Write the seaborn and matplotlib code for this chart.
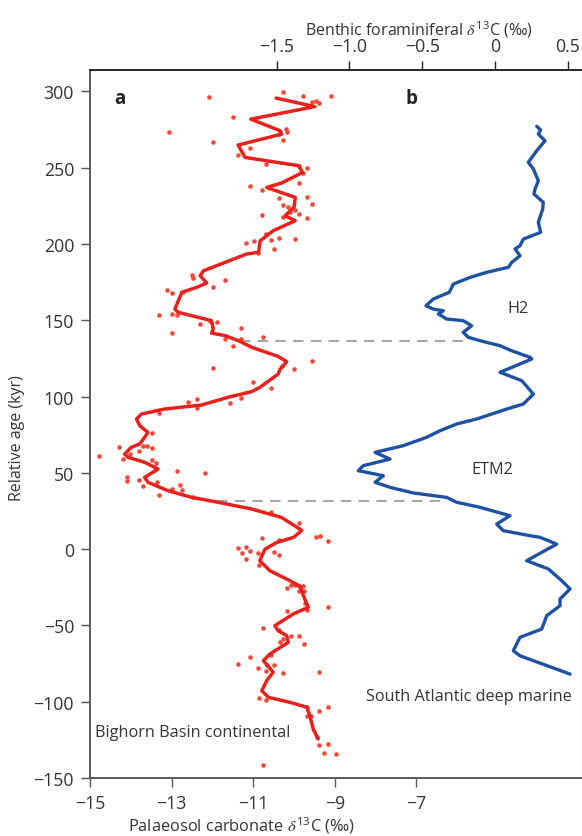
import matplotlib
matplotlib.use("Agg")
import matplotlib.pyplot as plt
import seaborn as sns
import pandas as pd

# Bighorn Basin palaeosol carbonate record: smoothed curve (age kyr, d13C permil)
soil_curve_age = [295.6, 290, 281.8, 274.2, 272, 264.8, 256.7, 251.3, 246.9, 240, 237, 230.5,
                  224, 218.5, 215.2, 208.7, 202, 194.5, 193.4, 182.4, 179.2, 174.4, 171.5, 168.3,
                  157.3, 155.2, 149.7, 144.2, 141.6, 139.9, 136.6, 132.2, 126.3, 122.8, 118, 114.7,
                  106, 103.2, 99.5, 94.4, 91.8, 88.5, 85.3, 80.9, 76.5, 73.3, 68.9, 66.7, 62.3,
                  60.2, 56.9, 52.5, 47, 43.8, 38.3, 34, 30.7, 26.3, 20.8, 12.3, 7.7, 4.4, 0,
                  -7.6, -14.2, -20.7, -24.4, -30.5, -38.1, -42.5, -50.2, -53.5, -56.7, -61.1,
                  -68.7, -73.1, -80.7, -86.2, -92.8, -97.1, -100.4, -103.6, -109.2, -117.9, -124.4]
soil_curve_d13c = [-10.44, -9.49, -11.06, -10.34, -10.30, -11.37, -11.20, -9.89, -9.79, -10.30,
                   -10.67, -9.97, -10.00, -10.22, -9.97, -10.51, -10.83, -10.87, -11.16, -12.22,
                   -12.30, -12.14, -12.39, -12.75, -12.92, -12.84, -12.02, -11.98, -12.02, -11.69,
                   -11.36, -11.03, -10.39, -10.18, -10.34, -10.39, -10.84, -11.04, -11.62, -12.27,
                   -13.18, -13.74, -13.86, -13.78, -13.58, -13.66, -13.78, -13.99, -14.15, -14.07,
                   -13.66, -13.33, -13.66, -13.58, -13.09, -12.52, -11.86, -11.04, -10.31, -9.81,
                   -10.01, -10.42, -10.71, -10.84, -10.59, -10.10, -9.85, -9.77, -9.65, -10.02,
                   -10.47, -10.39, -10.18, -10.14, -10.59, -10.75, -10.51, -10.67, -10.79, -10.63,
                   -10.10, -9.69, -9.61, -9.53, -9.41]

# Individual palaeosol nodule measurements
soil_age = [296.5, 299.3, 297.1, 293.8, 292.1, 292.8, 296.9, 283.0, 273.5, 266.6, 262.6, 258.3,
            275.3, 273.1, 268.1, 272.0, 252.4, 250.9, 249.5, 246.5, 239.7, 238.1, 235.3, 230.1,
            230.9, 226.1, 225.7, 224.0, 221.1, 217.4, 222.4, 219.6, 216.8, 219.1, 206.5, 202.6,
            203.9, 203.2, 200.4, 201.7, 194.0, 196.7, 179.6, 177.9, 176.5, 172.0, 170.0, 167.6,
            168.3, 153.6, 154.1, 153.4, 147.5, 149.7, 148.6, 141.6, 144.7, 138.8, 137.9, 137.7,
            133.3, 123.1, 118.0, 120.2, 118.5, 109.7, 105.7, 98.4, 96.2, 95.5, 99.1, 92.5, 89.4,
            76.3, 66.7, 61.2, 59.0, 64.1, 67.4, 67.8, 66.3, 62.1, 58.4, 56.4, 51.0, 50.2, 47.0,
            44.8, 45.6, 44.1, 41.2, 42.1, 38.9, 39.6, 35.5, 34.0, 24.1, 17.3, 7.7, 8.8, 5.5, 7.1,
            6.2, 0.5, 1.2, -2.6, -1.2, -6.3, -2.6, -1.9, -4.1, -10.1, -25.7, -23.5, -23.5, -24.4,
            -24.4, -27.3, -27.3, -35.3, -39.7, -40.8, -37.7, -51.7, -53.0, -57.1, -56.7, -62.2,
            -58.9, -61.1, -69.2, -70.9, -75.3, -77.9, -75.9, -75.9, -80.1, -81.4, -80.7, -97.8,
            -98.7, -103.7, -105.9, -103.7, -109.6, -109.2, -123.3, -128.4, -127.7, -133.6,
            -134.3, -141.2]
soil_d13c = [-12.08, -10.28, -9.77, -9.46, -9.40, -9.57, -9.09, -11.50, -13.06, -11.99, -11.08,
             -11.38, -10.20, -10.18, -10.28, -10.38, -10.69, -9.89, -9.69, -9.77, -9.88, -11.08,
             -10.78, -10.38, -9.69, -9.57, -10.26, -10.14, -10.10, -10.28, -9.98, -9.88, -9.69,
             -10.78, -10.69, -10.57, -10.38, -9.98, -11.18, -10.99, -10.89, -10.48, -12.49,
             -12.48, -11.69, -11.99, -13.11, -12.99, -12.71, -13.30, -12.99, -12.88, -12.30,
             -12.06, -11.89, -12.99, -11.30, -10.77, -11.30, -11.69, -11.49, -9.57, -9.99,
             -10.29, -11.99, -11.00, -10.57, -12.39, -12.61, -11.57, -11.30, -12.39, -13.30,
             -13.49, -14.30, -14.79, -14.18, -13.80, -13.69, -13.60, -13.49, -14.01, -13.49,
             -13.38, -12.88, -12.18, -14.10, -14.10, -13.80, -13.37, -13.69, -12.80, -12.74,
             -13.00, -13.30, -12.47, -10.57, -9.89, -9.46, -9.36, -9.17, -10.78, -10.38, -11.38,
             -11.18, -11.28, -11.08, -11.18, -10.89, -10.48, -10.38, -10.87, -10.18, -10.07,
             -9.98, -9.89, -9.77, -9.88, -9.75, -9.73, -9.69, -10.18, -9.17, -10.77, -10.38,
             -10.07, -9.88, -9.75, -10.26, -10.34, -10.57, -11.08, -11.38, -10.89, -10.67,
             -10.48, -10.69, -10.26, -9.38, -10.87, -10.69, -9.69, -9.38, -9.17, -9.69, -9.58,
             -9.44, -9.38, -9.17, -9.26, -8.97, -10.77]

# South Atlantic benthic foraminiferal record (age kyr, d13C permil)
benthic_age = [277.1, 274.8, 272.0, 267.6, 261.1, 253.5, 249.1, 241.4, 236.0, 232.7, 227.3, 222.9,
               214.2, 207.6, 203.2, 198.8, 196.7, 192.3, 187.9, 184.7, 181.4, 178.1, 173.7, 168.3,
               163.9, 159.5, 157.3, 156.2, 154.1, 150.8, 149.7, 146.4, 142.1, 138.8, 136.6, 133.3,
               130.0, 125.7, 124.6, 115.9, 110.4, 101.6, 95.1, 91.8, 85.3, 82.0, 77.6, 73.3, 67.8,
               63.4, 59.0, 54.7, 51.4, 48.1, 43.8, 40.5, 36.8, 33.9, 30.7, 27.4, 21.9, 16.4, 12.1,
               8.8, 7.7, 3.3, -7.6, -13.0, -20.7, -26.1, -32.7, -37.1, -43.6, -52.4, -57.8, -66.6,
               -69.9, -81.9]
benthic_d13c = [0.287, 0.314, 0.298, 0.344, 0.287, 0.229, 0.264, 0.298, 0.275, 0.268, 0.332,
                0.328, 0.298, 0.314, 0.195, 0.172, 0.138, 0.172, 0.115, 0.092, -0.057, -0.171,
                -0.286, -0.314, -0.424, -0.474, -0.424, -0.355, -0.389, -0.332, -0.218, -0.160,
                -0.218, -0.183, -0.103, 0.035, 0.115, 0.241, 0.253, 0.035, 0.184, 0.264, 0.195,
                0.081, -0.125, -0.263, -0.378, -0.469, -0.630, -0.824, -0.721, -0.905, -0.939,
                -0.767, -0.824, -0.721, -0.561, -0.332, -0.263, -0.103, 0.103, 0.012, 0.057,
                0.241, 0.310, 0.424, 0.218, 0.367, 0.459, 0.516, 0.447, 0.447, 0.356, 0.321,
                0.172, 0.126, 0.172, 0.516]

# Tie lines between the two records (age, start and end on the palaeosol scale)
tie_age = [136.6, 31.7]
tie_start = [-11.32, -11.89]
tie_end = [-5.69, -6.26]

age_ticks = [-150, -100, -50, 0, 50, 100, 150, 200, 250, 300]
soil_ticks = [-15, -13, -11, -9, -7]
benthic_ticks = [-1.5, -1.0, -0.5, 0, 0.5]
benthic_labels = ["\u22121.5", "\u22121.0", "\u22120.5", "0", "0.5"]

sns.set_style("ticks")
plt.rcParams["font.family"] = ["Open Sans", "DejaVu Sans"]
plt.rcParams["mathtext.fontset"] = "stix"

RED = "#e8211d"
DOT = "#ef4a3a"
BLUE = "#1f51a2"
TEXT = "#333333"
SPINE = "#555555"

fig = plt.figure(figsize=(5.82, 8.37), dpi=100)
ax = fig.add_axes([90 / 582, 1 - 779 / 837, 491.7 / 582, 708 / 837])
ax2 = ax.twiny()

soil_pts = pd.DataFrame({"d13c": soil_d13c, "age": soil_age})
soil_fit = pd.DataFrame({"d13c": soil_curve_d13c, "age": soil_curve_age})
benthic = pd.DataFrame({"d13c": benthic_d13c, "age": benthic_age})

for a, x0, x1 in zip(tie_age, tie_start, tie_end):
    ax.plot([x0, x1], [a, a], color="#a6a6a6", lw=1.5, dashes=(5, 3.5), zorder=1)

sns.scatterplot(data=soil_pts, x="d13c", y="age", ax=ax, color=DOT, s=11,
                linewidth=0, zorder=2)
sns.lineplot(data=soil_fit, x="d13c", y="age", ax=ax, color=RED, lw=2.5,
             sort=False, estimator=None, zorder=3)
sns.lineplot(data=benthic, x="d13c", y="age", ax=ax2, color=BLUE, lw=2.4,
             sort=False, estimator=None, zorder=3)

ax.set_xlim(-15, -2.95)
ax.set_ylim(-150, 314)
ax2.set_xlim(-2.783, 0.596)
ax2.set_ylim(-150, 314)

ax.set_xticks(soil_ticks)
ax.set_xticklabels([f"\u2212{abs(v)}" for v in soil_ticks])
ax.set_yticks(age_ticks)
ax.set_yticklabels([f"\u2212{abs(v)}" if v < 0 else str(v) for v in age_ticks])
ax2.set_xticks(benthic_ticks)
ax2.set_xticklabels(benthic_labels)

for a in (ax, ax2):
    a.tick_params(labelsize=12.8, colors=SPINE, labelcolor=TEXT, length=6.5, width=1.0, pad=5)
    for s in a.spines.values():
        s.set_linewidth(1.1)
    a.spines["left"].set_color(SPINE)
    a.spines["bottom"].set_color(SPINE)
    a.spines["top"].set_color("#222222")
    a.spines["right"].set_color("#cfcfcf")
    a.spines["right"].set_linewidth(0.8)
ax2.tick_params(axis="x", colors="#222222", labelcolor=TEXT, pad=4)

ax.set_xlabel("Palaeosol carbonate $\\delta^{\\mathregular{13}}$C (\u2030)", fontsize=11.8,
              color=TEXT, ha="left")
ax.xaxis.set_label_coords(0.0773, -0.0505)
ax.set_ylabel("Relative age (kyr)", fontsize=11.5, color=TEXT)
ax.yaxis.set_label_coords(-0.133, 0.482)
ax2.set_xlabel("Benthic foraminiferal $\\delta^{\\mathregular{13}}$C (\u2030)", fontsize=11.5,
               color=TEXT, ha="left")
ax2.xaxis.set_label_coords(0.437, 1.051)

ax.text(0.061, 0.960, "a", transform=ax.transAxes, fontsize=13.5, fontweight="bold",
        color="#222222", ha="center", va="center")
ax.text(0.653, 0.960, "b", transform=ax.transAxes, fontsize=13.5, fontweight="bold",
        color="#222222", ha="center", va="center")
ax.text(0.870, 0.664, "H2", transform=ax.transAxes, fontsize=11.7, color=TEXT,
        ha="center", va="center")
ax.text(0.818, 0.436, "ETM2", transform=ax.transAxes, fontsize=11.7, color=TEXT,
        ha="center", va="center")
ax.text(0.010, 0.065, "Bighorn Basin continental", transform=ax.transAxes, fontsize=11.7,
        color=TEXT, ha="left", va="center")
ax.text(0.770, 0.116, "South Atlantic deep marine", transform=ax.transAxes, fontsize=11.7,
        color=TEXT, ha="center", va="center")

fig.savefig("out.png", dpi=100)
